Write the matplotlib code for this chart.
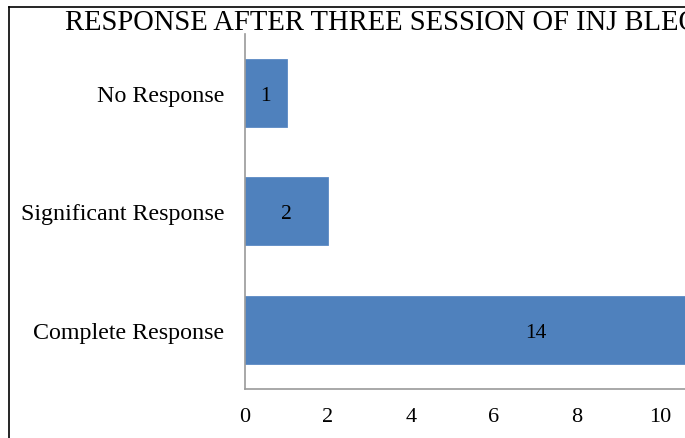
import matplotlib.pyplot as plt
from matplotlib.lines import Line2D

# du lieu
categories = ["Complete Response", "Significant Response", "No Response"]
values = [14, 2, 1]
xticks = [0, 2, 4, 6, 8, 10]

plt.rcParams['font.family'] = ['Liberation Serif', 'DejaVu Serif']

fig = plt.figure(figsize=(6.85, 4.39), dpi=100)
ax = fig.add_axes([245/685, 49/439, 664/685, 355.5/439])

bars = ax.barh(categories, values, height=0.574, color="#4F81BD", edgecolor="#5B8AC4", linewidth=0.6)
for i, v in enumerate(values):
    ax.text(v / 2, i, str(v), ha="center", va="center_baseline", fontsize=15.5)

ax.set_xlim(0, 16)
ax.set_ylim(-0.5, 2.5)
ax.set_xticks(xticks)
ax.tick_params(axis="x", length=0, pad=13, labelsize=16)
ax.tick_params(axis="y", length=0, pad=15, labelsize=17.3)

for s in ["top", "right"]:
    ax.spines[s].set_visible(False)
for s in ["left", "bottom"]:
    ax.spines[s].set_color("#9A9A9A")
    ax.spines[s].set_linewidth(1.2)

# tieu de (bi cat o ben phai)
fig.text(65/685, 1 - 23/439, "RESPONSE AFTER THREE SESSION OF INJ BLEOMYCIN",
         fontsize=20.6, ha="left", va="center")

# khung ngoai
fig.add_artist(Line2D([9/685, 9/685], [0, 1 - 8/439], color="black", lw=1.2))
fig.add_artist(Line2D([9/685, 1], [1 - 8/439, 1 - 8/439], color="black", lw=1.2))

fig.savefig("out.png", dpi=100)
